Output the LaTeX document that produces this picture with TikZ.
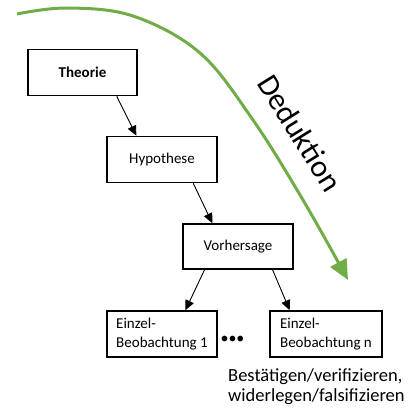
\documentclass[tikz,border=0pt]{standalone}
\usepackage{fontspec}
\setmainfont{Carlito}
\usetikzlibrary{arrows.meta,calc}
\definecolor{dedgreen}{RGB}{112,173,71}
\begin{document}
\begin{tikzpicture}[x=1pt,y=-1pt,
  box/.style={draw=black,line width=1.5pt,minimum height=46pt,inner sep=0pt,
    font=\fontsize{15}{19.5}\selectfont,align=left},
  conn/.style={line width=0.9pt,-{Triangle[length=10pt,width=9pt]}},
]
\useasboundingbox (0,0) rectangle (416,412);

\node[box,minimum width=109pt,font=\fontsize{15}{18}\selectfont\bfseries] (th) at (82.5,72.5) {Theorie};
\node[box,minimum width=110pt] (hy) at (162,159.5) {Hypothese};
\node[box,minimum width=110pt,minimum height=45pt] (vo) at (238,246.5) {Vorhersage};
\node[box,minimum width=110pt] (e1) at (162,334) {Einzel-\\Beobachtung 1};
\node[box,minimum width=112pt] (en) at (326,334) {Einzel-\\Beobachtung n};
\node[font=\fontsize{16}{16}\selectfont,inner sep=0pt] (dots) at (232.5,340) {•••};

\draw[conn] ($(th.south west)!0.81!(th.south east)$) -- ($(hy.north west)!0.27!(hy.north east)$);
\draw[conn] ($(hy.south west)!0.78!(hy.south east)$) -- ($(vo.north west)!0.27!(vo.north east)$);
\draw[conn] ($(vo.south west)!0.2!(vo.south east)$) -- ($(e1.north west)!0.71!(e1.north east)$);
\draw[conn] ($(vo.south west)!0.81!(vo.south east)$) -- ($(en.north west)!0.18!(en.north east)$);

\node[anchor=north west,inner sep=0pt,align=left,font=\fontsize{18.5}{20}\selectfont] (res) at (228,368)
  {Bestätigen/verifizieren,\\widerlegen/falsifizieren};

\draw[dedgreen,line width=3pt,-{Triangle[length=20pt,width=18pt]}]
  plot[smooth,tension=0.6] coordinates {(17,14) (67,8) (133,16) (200,53) (253,120) (303,200) (348,280)};
\node[rotate=-58,font=\fontsize{31}{31}\selectfont,inner sep=0pt] (ded) at (300,133) {Deduktion};
\end{tikzpicture}
\end{document}
